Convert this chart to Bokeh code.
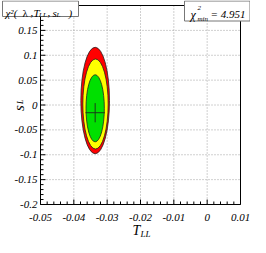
from bokeh.plotting import figure
from bokeh.models import Range1d, ColumnDataSource
from bokeh.core.properties import value
from bokeh.embed import file_html
from bokeh.resources import INLINE

# ---------------- data ----------------
x_ticks = [-0.05, -0.04, -0.03, -0.02, -0.01, 0.0, 0.01]
x_tick_labels = ["-0.05", "-0.04", "-0.03", "-0.02", "-0.01", "0", "0.01"]
x_minor = [-0.048, -0.046, -0.044, -0.042, -0.038, -0.036, -0.034, -0.032,
           -0.028, -0.026, -0.024, -0.022, -0.018, -0.016, -0.014, -0.012,
           -0.008, -0.006, -0.004, -0.002, 0.002, 0.004, 0.006, 0.008]
y_ticks = [-0.2, -0.15, -0.1, -0.05, 0.0, 0.05, 0.1, 0.15]
y_tick_labels = ["-0.2", "-0.15", "-0.1", "-0.05", "0", "0.05", "0.1", "0.15"]
y_minor = [-0.19, -0.18, -0.17, -0.16, -0.14, -0.13, -0.12, -0.11,
           -0.09, -0.08, -0.07, -0.06, -0.04, -0.03, -0.02, -0.01,
           0.01, 0.02, 0.03, 0.04, 0.06, 0.07, 0.08, 0.09,
           0.11, 0.12, 0.13, 0.14, 0.16, 0.17, 0.18, 0.19]

contour_cx = [-0.0336, -0.0335, -0.0336]
contour_cy = [0.009, 0.002, -0.0066]
contour_w = [0.0086, 0.0076, 0.0055]
contour_h = [0.214, 0.181, 0.135]
contour_col = ["#ff0000", "#ffff00", "#00e000"]

best_x = [-0.0336]
best_y = [-0.0155]
err_x = [0.0029]
err_y = [0.0193]
chi2_min = "4.951"

X0, X1 = -0.05, 0.01
Y0, Y1 = -0.2, 0.2

# ---------------- layout (pixels on the canvas) ----------------
W, H = 250, 237
L, R, T, B = 40, 240, 5, 204
PX = (X1 - X0) / (R - L)     # data per pixel, x
PY = (Y1 - Y0) / (B - T)     # data per pixel, y

def dx(sx):
    return X0 + (sx - L) * PX

def dy(sy):
    return Y1 - (sy - T) * PY

p = figure(width=W, height=H, output_backend="svg", toolbar_location=None,
           x_range=Range1d(dx(0), dx(W)), y_range=Range1d(dy(H), dy(0)),
           x_axis_type=None, y_axis_type=None,
           min_border=0, min_border_left=0, min_border_right=0,
           min_border_top=0, min_border_bottom=0)
p.grid.visible = False
p.outline_line_color = None
p.background_fill_color = "white"
p.border_fill_color = "white"

FONT = value("Liberation Serif")

# grid (dotted)
gx = x_ticks[1:-1]
gy = y_ticks[1:]
p.segment(x0=gx, y0=[Y0] * len(gx), x1=gx, y1=[Y1] * len(gx),
          line_color="#a0a0a0", line_dash="1 2", line_width=1)
p.segment(x0=[X0] * len(gy), y0=gy, x1=[X1] * len(gy), y1=gy,
          line_color="#a0a0a0", line_dash="1 2", line_width=1)

# contours
src = ColumnDataSource(dict(x=contour_cx, y=contour_cy, w=contour_w, h=contour_h, c=contour_col))
p.ellipse(x="x", y="y", width="w", height="h", fill_color="c", line_color="#222222",
          line_width=0.8, source=src)

# best-fit cross
p.segment(x0=[best_x[0] - err_x[0]], y0=best_y, x1=[best_x[0] + err_x[0]], y1=best_y,
          line_color="#1a3a1a", line_width=1)
p.segment(x0=best_x, y0=[best_y[0] - err_y[0]], x1=best_x, y1=[best_y[0] + err_y[0]],
          line_color="#1a3a1a", line_width=1)

# frame
p.quad(left=[X0], right=[X1], bottom=[Y0], top=[Y1], fill_color=None,
       line_color="black", line_width=1)

# ticks (inward)
MAJ, MIN = 5, 3
p.segment(x0=[X0] * len(y_ticks), y0=y_ticks, x1=[X0 + MAJ * PX] * len(y_ticks), y1=y_ticks,
          line_color="black", line_width=1)
p.segment(x0=[X0] * len(y_minor), y0=y_minor, x1=[X0 + MIN * PX] * len(y_minor), y1=y_minor,
          line_color="black", line_width=1)
p.segment(x0=x_ticks, y0=[Y0] * len(x_ticks), x1=x_ticks, y1=[Y0 + MAJ * PY] * len(x_ticks),
          line_color="black", line_width=1)
p.segment(x0=x_minor, y0=[Y0] * len(x_minor), x1=x_minor, y1=[Y0 + MIN * PY] * len(x_minor),
          line_color="black", line_width=1)

# tick labels
p.text(x=[X0 - 3 * PX] * len(y_ticks), y=y_ticks, text=y_tick_labels,
       text_font=FONT, text_font_style="italic", text_font_size="11px",
       text_align="right", text_baseline="middle", text_color="black")
p.text(x=x_ticks, y=[dy(B + 13)] * len(x_ticks), text=x_tick_labels,
       text_font=FONT, text_font_style="italic", text_font_size="11px",
       text_align="center", text_baseline="alphabetic", text_color="black")

def lab(sx, sy, text, size, angle=0.0, style="italic"):
    p.text(x=[dx(sx)], y=[dy(sy)], text=[text], text_font=FONT,
           text_font_style=style, text_font_size=f"{size}px",
           text_color="black", text_baseline="alphabetic",
           text_align="left", angle=angle)

# axis titles
lab(132, 230, "T", 14)
lab(140, 233, "LL", 9)
lab(18, 110.5, "s", 15, angle=1.5708)
lab(19.5, 103.5, "L", 8, angle=1.5708)

# title boxes
p.quad(left=[dx(2)], right=[dx(78)], top=[dy(0.5)], bottom=[dy(16)],
       fill_color="white", line_color="#777777", line_width=1)
p.quad(left=[dx(184)], right=[dx(249.5)], top=[dy(0.5)], bottom=[dy(20.5)],
       fill_color="white", line_color="#777777", line_width=1)

lab(5, 12, "\u03c7\u00b2(", 11)
lab(22, 12, "\u03bb", 11, style="normal")
lab(30, 12, ",", 11)
lab(33, 12, "T", 11)
lab(38.5, 14, "LL", 7)
lab(47, 12, ",", 11)
lab(52, 12, "s", 11)
lab(56, 14, "L", 7)
lab(68, 12, ")", 11)

lab(190, 14, "\u03c7", 12)
lab(197, 7, "2", 7)
lab(197, 18, "min", 7)
lab(210, 13.5, "= " + chi2_min, 11)

open("out.html", "w").write(file_html(p, INLINE))
